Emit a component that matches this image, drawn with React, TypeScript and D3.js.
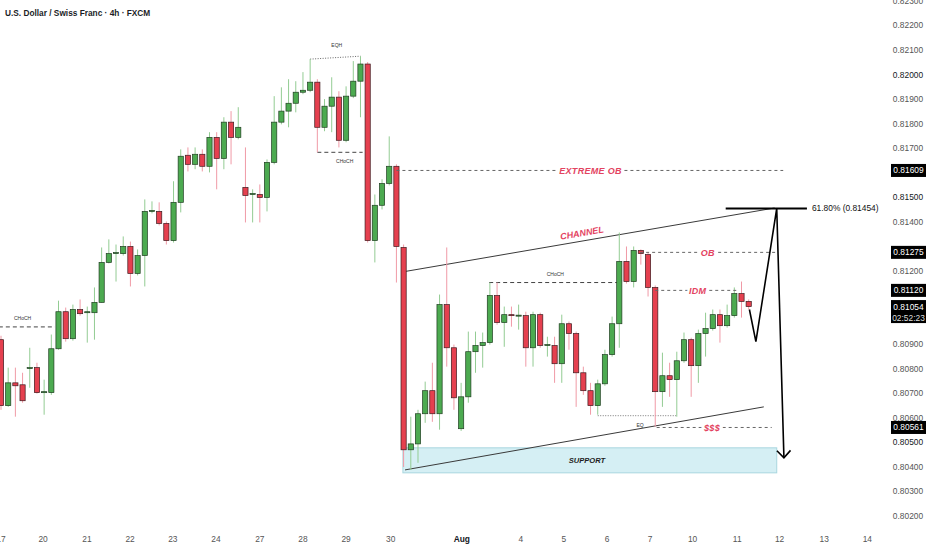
import * as d3 from 'd3'

// USD/CHF 4h candles (index 0 = left edge)
const opens = [
  0.80919, 0.8065, 0.80743, 0.80735, 0.80801, 0.80805, 0.80703, 0.80703, 0.80882, 0.81033,
  0.80923, 0.81042, 0.81029, 0.81029, 0.81071, 0.81234, 0.8127, 0.8127, 0.81299, 0.81189,
  0.81262, 0.81442, 0.81442, 0.81393, 0.81323, 0.81479, 0.81671, 0.81634, 0.81675, 0.81626,
  0.81744, 0.81658, 0.81806, 0.81744, 0.8154, 0.81511, 0.81511, 0.81499, 0.81642, 0.81806,
  0.81851, 0.81883, 0.81928, 0.81936, 0.81969, 0.81785, 0.81871, 0.81908, 0.81732, 0.81912,
  0.81973, 0.82043, 0.81323, 0.81467, 0.81556, 0.81626, 0.81295, 0.8047, 0.80494, 0.80617,
  0.80711, 0.80617, 0.81062, 0.80886, 0.80556, 0.80686, 0.8087, 0.80895, 0.80907, 0.81099,
  0.80989, 0.81021, 0.81017, 0.81017, 0.80886, 0.81021, 0.80895, 0.80895, 0.80821, 0.80984,
  0.80944, 0.80784, 0.80711, 0.8065, 0.80739, 0.80858, 0.80984, 0.81238, 0.81156, 0.81283,
  0.81266, 0.81132, 0.80707, 0.80772, 0.80756, 0.80833, 0.80919, 0.80813, 0.80944, 0.80964,
  0.81021, 0.80976, 0.81017, 0.81107, 0.81075,
]
const highs = [
  0.80935, 0.80805, 0.80805, 0.80784, 0.80886, 0.80825, 0.80756, 0.8094, 0.81078, 0.8105,
  0.81062, 0.81083, 0.81054, 0.81132, 0.81295, 0.81328, 0.81307, 0.8134, 0.81319, 0.81287,
  0.81491, 0.81483, 0.81479, 0.81401, 0.81565, 0.81695, 0.81703, 0.81703, 0.81695, 0.81765,
  0.81765, 0.81826, 0.81851, 0.81867, 0.81703, 0.81532, 0.81552, 0.81654, 0.81912, 0.81948,
  0.81981, 0.81973, 0.8201, 0.82063, 0.81981, 0.819, 0.81989, 0.81932, 0.81952, 0.82055,
  0.82075, 0.82051, 0.81511, 0.81573, 0.81748, 0.81634, 0.81307, 0.80605, 0.80633, 0.80748,
  0.80825, 0.81103, 0.81295, 0.80899, 0.80743, 0.80952, 0.80952, 0.80948, 0.81152, 0.81152,
  0.81054, 0.81054, 0.81062, 0.81033, 0.81033, 0.81029, 0.80931, 0.80931, 0.81021, 0.80993,
  0.80952, 0.80809, 0.80743, 0.80756, 0.80878, 0.81013, 0.81356, 0.81299, 0.81299, 0.81287,
  0.81274, 0.8114, 0.80866, 0.80825, 0.8087, 0.80948, 0.80927, 0.8096, 0.81029, 0.81042,
  0.81042, 0.81062, 0.81132, 0.81156, 0.81083,
]
const lows = [
  0.80633, 0.80645, 0.80605, 0.80662, 0.80723, 0.80699, 0.80613, 0.80694, 0.80878, 0.80911,
  0.80915, 0.81017, 0.80907, 0.80919, 0.8107, 0.8123, 0.81156, 0.81262, 0.81136, 0.81181,
  0.81136, 0.81434, 0.81385, 0.81307, 0.81315, 0.81438, 0.81605, 0.81614, 0.81605, 0.81601,
  0.81532, 0.81614, 0.81634, 0.81736, 0.81397, 0.81397, 0.81397, 0.81442, 0.81634, 0.81797,
  0.81785, 0.81846, 0.8192, 0.81928, 0.81683, 0.81769, 0.81765, 0.81703, 0.81724, 0.81904,
  0.81826, 0.81315, 0.81234, 0.8145, 0.81548, 0.81152, 0.804, 0.80388, 0.80417, 0.8058,
  0.80584, 0.80552, 0.80809, 0.80633, 0.80547, 0.80662, 0.80784, 0.80805, 0.80899, 0.8098,
  0.8089, 0.80972, 0.8096, 0.80809, 0.80809, 0.80886, 0.8085, 0.80743, 0.80743, 0.80878,
  0.80645, 0.80694, 0.80613, 0.80613, 0.80731, 0.8085, 0.80886, 0.81148, 0.81132, 0.81225,
  0.81095, 0.80564, 0.80645, 0.80686, 0.80605, 0.80825, 0.80686, 0.80743, 0.8085, 0.80956,
  0.80907, 0.80968, 0.81009, 0.81009, 0.81042,
]
const closes = [
  0.8065, 0.80743, 0.80731, 0.8067, 0.80805, 0.80703, 0.80707, 0.80882, 0.81033, 0.80923,
  0.81042, 0.81025, 0.81033, 0.81071, 0.81234, 0.8127, 0.81274, 0.81299, 0.81189, 0.81262,
  0.81442, 0.81446, 0.81393, 0.81323, 0.81479, 0.81667, 0.81634, 0.81675, 0.81626, 0.81744,
  0.81658, 0.81806, 0.81744, 0.81785, 0.81507, 0.81515, 0.81499, 0.81642, 0.81806, 0.81851,
  0.81883, 0.81928, 0.81936, 0.81969, 0.81785, 0.81871, 0.81908, 0.81732, 0.81912, 0.81973,
  0.82043, 0.81323, 0.81467, 0.81556, 0.81626, 0.81299, 0.8047, 0.80494, 0.80617, 0.80711,
  0.80617, 0.81062, 0.80886, 0.80682, 0.80686, 0.8087, 0.80895, 0.80907, 0.81099, 0.80989,
  0.81021, 0.81017, 0.81019, 0.80886, 0.81021, 0.80895, 0.80899, 0.80821, 0.80984, 0.80944,
  0.80784, 0.80711, 0.8065, 0.80739, 0.80858, 0.80984, 0.81238, 0.81156, 0.81283, 0.8127,
  0.81132, 0.80707, 0.80772, 0.80756, 0.80833, 0.80919, 0.80813, 0.80944, 0.80964, 0.81021,
  0.80976, 0.81017, 0.81107, 0.81075, 0.81054,
]

const priceTicks = [
  0.823, 0.822, 0.821, 0.82, 0.819, 0.818, 0.817, 0.816, 0.815, 0.814, 0.813,
  0.812, 0.811, 0.81, 0.809, 0.808, 0.807, 0.806, 0.805, 0.804, 0.803, 0.802,
]
const dayTicks: [number, string][] = [
  [0, '17'], [5.85, '20'], [11.95, '21'], [17.95, '22'], [23.9, '23'], [29.9, '24'],
  [36, '27'], [42, '28'], [48, '29'], [54.2, '30'], [64.1, 'Aug'], [72.3, '4'],
  [78.3, '5'], [84.3, '6'], [90.3, '7'], [96.2, '10'], [102.4, '11'], [108.3, '12'],
  [114.5, '13'], [120.5, '14'],
]

// zones drawn on the chart: [price, from index, to index, label, label index]
const zoneLevels: [number, number, number, string, number][] = [
  [0.81609, 55, 108.8, 'EXTREME OB', 82],
  [0.81275, 88.9, 107.9, 'OB', 98.3],
  [0.8112, 91, 102.4, 'IDM', 96.9],
  [0.80561, 91.2, 107.2, '$$$', 98.9],
]
// CHoCH breaks: [price, from, to, label index, label above?]
const chochLevels: [number, number, number, number, boolean][] = [
  [0.80971, -0.3, 7.5, 3, true],
  [0.81683, 44, 50.3, 47.8, false],
  [0.81152, 67.9, 85.7, 77.1, true],
]
const eqh: [number, number][] = [[43, 0.82063], [50, 0.82075]]
const eqLow: [number, number][] = [[83, 0.80609], [94, 0.80609]]
const channelTop: [number, number][] = [[56.2, 0.81197], [107.6, 0.81456]]
const channelBottom: [number, number][] = [[56.2, 0.80388], [106.1, 0.80645]]
const supportZone = { from: 55.9, to: 107.9, top: 0.80478, bottom: 0.80376 }
const fibLevel = { price: 0.81454, from: 100.8, to: 112.1, label: '61.80% (0.81454)' }
const projection: [number, number][] = [
  [104.1, 0.81042], [105, 0.80911], [107.9, 0.81454], [108.9, 0.80437],
]
const badges = [0.81609, 0.81275, 0.8112, 0.80561]
const lastPrice = 0.81054
const countdown = '02:52:23'

const RED = '#e5404f'
const GREEN = '#4caa50'
const LABEL_RED = '#e3435f'

export default function App() {
  const width = 932
  const height = 550
  const x = d3.scaleLinear([0, 104], [1, 748.7])
  const y = d3.scaleLinear([0.823, 0.802], [1, 516])
  const line = d3.line<[number, number]>(d => x(d[0]), d => y(d[1]))
  const fmt = d3.format('.5f')

  const candles = opens.map((o, i) => ({ i, o, h: highs[i], l: lows[i], c: closes[i] }))

  // tick labels that sit fully behind a price badge are not drawn
  const covered = [...badges, lastPrice]
  const visibleTicks = priceTicks.filter(p =>
    covered.every(b => Math.abs(y(p) - y(b)) > 9 || (b === lastPrice && y(p) < y(b) - 9))
  )

  const slope =
    (Math.atan2(y(channelTop[1][1]) - y(channelTop[0][1]), x(channelTop[1][0]) - x(channelTop[0][0])) * 180) /
    Math.PI

  const end = projection[projection.length - 1]
  const prev = projection[projection.length - 2]
  const ang = Math.atan2(y(end[1]) - y(prev[1]), x(end[0]) - x(prev[0]))
  const ax = x(end[0])
  const ay = y(end[1])
  const head = [ang + Math.PI - 0.75, ang + Math.PI + 0.75].map(a => [ax + 10 * Math.cos(a), ay + 10 * Math.sin(a)])

  return (
    <svg
      width={width}
      height={height}
      style={{ position: 'absolute', left: 0, top: 0, background: '#fff' }}
      fontFamily="'Liberation Sans', Arial, sans-serif"
    >
      <rect width={width} height={height} fill="#fff" />

      {/* support zone */}
      <rect
        x={x(supportZone.from)}
        y={y(supportZone.top)}
        width={x(supportZone.to) - x(supportZone.from)}
        height={y(supportZone.bottom) - y(supportZone.top)}
        fill="#d5eff4"
        stroke="#a9d7df"
        strokeWidth={1}
      />
      <text
        x={x(81.5)}
        y={y((supportZone.top + supportZone.bottom) / 2)}
        dy="0.35em"
        textAnchor="middle"
        fontSize={7.6}
        fontWeight="bold"
        fontStyle="italic"
        fill="#1d1d1d"
      >
        SUPPORT
      </text>

      {/* channel */}
      <g stroke="#3a3a3a" strokeWidth={1} fill="none">
        <path d={line(channelTop) ?? undefined} />
        <path d={line(channelBottom) ?? undefined} />
      </g>
      <text
        transform={`translate(${x(80.8)},${y(0.81354)}) rotate(${slope})`}
        dy="0.35em"
        textAnchor="middle"
        fontSize={9}
        fontWeight="bold"
        fontStyle="italic"
        fill={LABEL_RED}
      >
        CHANNEL
      </text>

      {/* structure lines */}
      {chochLevels.map(([p, a, b, li, above], k) => (
        <g key={'ch' + k}>
          <line x1={x(a)} x2={x(b)} y1={y(p)} y2={y(p)} stroke="#444" strokeDasharray="4 3" />
          <text x={x(li)} y={y(p) + (above ? -7 : 11)} textAnchor="middle" fontSize={5} fill="#333">
            CHoCH
          </text>
        </g>
      ))}
      <path d={line(eqh) ?? undefined} stroke="#666" strokeDasharray="1 1.5" fill="none" />
      <text x={x(46.7)} y={y(0.82075) - 9} textAnchor="middle" fontSize={5} fill="#333">
        EQH
      </text>
      <path d={line(eqLow) ?? undefined} stroke="#777" strokeDasharray="1 1.5" fill="none" />
      <text x={x(88.9)} y={y(0.80609) + 11} textAnchor="middle" fontSize={5} fill="#333">
        EQ
      </text>

      {/* candles */}
      {candles.map(d => {
        const up = d.c >= d.o
        const top = y(Math.max(d.o, d.c))
        const h = Math.max(1, Math.abs(y(d.o) - y(d.c)))
        return (
          <g key={d.i}>
            <line
              x1={x(d.i)}
              x2={x(d.i)}
              y1={y(d.h)}
              y2={y(d.l)}
              stroke={up ? '#93cc93' : '#f09aa6'}
              strokeWidth={1}
            />
            <rect
              x={x(d.i) - 2.6}
              y={top}
              width={5.2}
              height={h}
              fill={up ? GREEN : RED}
              stroke={up ? '#1f3d20' : '#3d1a1e'}
              strokeWidth={0.7}
            />
          </g>
        )
      })}

      {/* zone levels */}
      {zoneLevels.map(([p, a, b, label, li], k) => (
        <g key={'z' + k}>
          <line x1={x(a)} x2={x(b)} y1={y(p)} y2={y(p)} stroke="#666" strokeDasharray="3 3" />
          <text
            x={x(li)}
            y={y(p)}
            dy="0.35em"
            textAnchor="middle"
            fontSize={9}
            fontWeight="bold"
            fontStyle="italic"
            fill={LABEL_RED}
            stroke="#fff"
            strokeWidth={5}
            paintOrder="stroke"
            letterSpacing={0.3}
          >
            {label}
          </text>
        </g>
      ))}

      {/* fib target */}
      <line
        x1={x(fibLevel.from)}
        x2={x(fibLevel.to)}
        y1={y(fibLevel.price)}
        y2={y(fibLevel.price)}
        stroke="#000"
        strokeWidth={2}
      />
      <text x={x(fibLevel.to) + 5} y={y(fibLevel.price)} dy="0.35em" fontSize={8.4} fill="#111">
        {fibLevel.label}
      </text>

      {/* projection */}
      <path d={line(projection) ?? undefined} stroke="#000" strokeWidth={1.6} fill="none" />
      <path
        d={`M${head[0][0]},${head[0][1]}L${ax},${ay}L${head[1][0]},${head[1][1]}`}
        stroke="#000"
        strokeWidth={1.6}
        fill="none"
      />

      {/* price axis */}
      {visibleTicks.map(p => (
        <text
          key={p}
          x={908}
          y={y(p)}
          dy="0.35em"
          textAnchor="middle"
          fontSize={8.4}
          fill={Math.round(p * 1000) % 5 === 0 ? '#131722' : '#555'}
        >
          {fmt(p)}
        </text>
      ))}
      {badges.map(p => (
        <g key={'b' + p}>
          <rect x={891} y={y(p) - 6.5} width={35} height={13} fill="#000" />
          <text x={908.5} y={y(p)} dy="0.35em" textAnchor="middle" fontSize={8.4} fill="#fff">
            {fmt(p)}
          </text>
        </g>
      ))}
      <rect x={891} y={y(lastPrice) - 6.5} width={35} height={23} fill="#000" />
      <text x={908.5} y={y(lastPrice)} dy="0.35em" textAnchor="middle" fontSize={8.4} fill="#fff">
        {fmt(lastPrice)}
      </text>
      <text x={908.5} y={y(lastPrice) + 11} dy="0.35em" textAnchor="middle" fontSize={8.4} fill="#ddd">
        {countdown}
      </text>

      {/* time axis */}
      {dayTicks.map(([i, label]) => (
        <text
          key={label + i}
          x={x(i)}
          y={539}
          dy="0.35em"
          textAnchor="middle"
          fontSize={8.4}
          fontWeight={label === 'Aug' ? 'bold' : 'normal'}
          fill={label === 'Aug' ? '#131722' : '#555'}
        >
          {label}
        </text>
      ))}

      {/* title */}
      <text x={5} y={16} fontSize={8.3} fontWeight="bold" fill="#1a1d26">
        U.S. Dollar / Swiss Franc · 4h · FXCM
      </text>
    </svg>
  )
}
